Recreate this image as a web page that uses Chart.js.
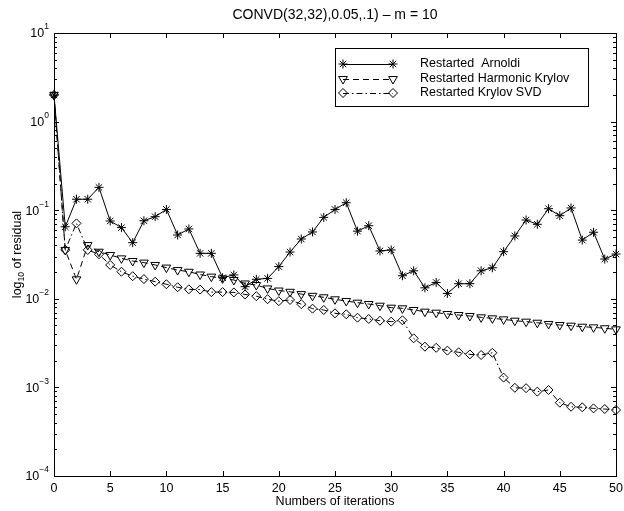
<!DOCTYPE html>
<html>
<head>
<meta charset="utf-8">
<script src="https://cdn.jsdelivr.net/npm/chart.js@4"></script>
<style>
  body { margin: 0; background: #fff; }
  #wrap { width: 624px; height: 511px; }
</style>
</head>
<body>
<div id="wrap"><canvas id="myChart" width="624" height="511"></canvas></div>
<script>
const iterations = [0,1,2,3,4,5,6,7,8,9,10,11,12,13,14,15,16,17,18,19,20,21,22,23,24,25,
  26,27,28,29,30,31,32,33,34,35,36,37,38,39,40,41,42,43,44,45,46,47,48,49,50];

const arnoldi = [2.0, 0.065, 0.133, 0.133, 0.181, 0.0755, 0.0636, 0.043, 0.076, 0.0845,
  0.102, 0.0525, 0.0614, 0.0326, 0.0326, 0.0173, 0.0186, 0.0137, 0.0166, 0.017,
  0.0231, 0.0337, 0.0473, 0.0568, 0.083, 0.102, 0.1216, 0.058, 0.0668, 0.0347,
  0.0356, 0.0182, 0.0207, 0.0133, 0.0153, 0.0115, 0.0148, 0.0148, 0.0207, 0.0224,
  0.034, 0.0512, 0.0775, 0.0693, 0.104, 0.0867, 0.106, 0.046, 0.0564, 0.0281, 0.032];

const harmonic = [2.0, 0.0356, 0.0166, 0.0404, 0.034, 0.0312, 0.0286, 0.0267, 0.0256, 0.0241,
  0.0225, 0.0211, 0.0202, 0.0188, 0.0178, 0.017, 0.0163, 0.0149, 0.0143, 0.0131,
  0.0124, 0.012, 0.0113, 0.0108, 0.0104, 0.00987, 0.00944, 0.00904, 0.00873, 0.00836,
  0.00794, 0.00781, 0.00748, 0.00716, 0.00697, 0.00674, 0.00656, 0.0064, 0.00618, 0.00602,
  0.00586, 0.00566, 0.00552, 0.00537, 0.0052, 0.00506, 0.00497, 0.00484, 0.00476, 0.00465, 0.00452];

const krylovSvd = [2.0, 0.0356, 0.071, 0.0356, 0.0318, 0.0241, 0.0202, 0.018, 0.0167, 0.0156,
  0.0146, 0.0135, 0.0128, 0.0127, 0.0119, 0.0119, 0.0118, 0.0112, 0.0107, 0.0099,
  0.0094, 0.0097, 0.0087, 0.00774, 0.00748, 0.00686, 0.00668, 0.00612, 0.00592, 0.00566,
  0.00552, 0.00572, 0.00358, 0.00288, 0.0028, 0.0026, 0.00249, 0.00236, 0.00232, 0.00246,
  0.00129, 0.00099, 0.00098, 0.000896, 0.000935, 0.000672, 0.000605, 0.000596, 0.00058, 0.00057, 0.000556];

const seriesNames = ['Restarted  Arnoldi', 'Restarted Harmonic Krylov', 'Restarted Krylov SVD'];
const xTicks = [0,5,10,15,20,25,30,35,40,45,50];
const yDecades = [-4,-3,-2,-1,0,1];

const titleText = 'CONVD(32,32),0.05,.1) \u2013 m = 10';
const xLabel = 'Numbers of iterations';

const FONT = '"Liberation Sans", Arial, Helvetica, sans-serif';

function pts(vals) {
  return iterations.map((x, i) => ({x: x, y: vals[i]}));
}

// axes, ticks, labels, legend drawn like matlab
const matlabAxes = {
  id: 'matlabAxes',
  afterDraw(chart) {
    const ctx = chart.ctx;
    const a = chart.chartArea;
    const xs = chart.scales.x, ys = chart.scales.y;
    ctx.save();
    ctx.strokeStyle = '#000';
    ctx.fillStyle = '#000';
    ctx.lineWidth = 1;

    // box
    ctx.strokeRect(Math.round(a.left) + 0.5, Math.round(a.top) + 0.5,
      Math.round(a.right - a.left), Math.round(a.bottom - a.top));

    // x ticks
    ctx.beginPath();
    for (const t of xTicks) {
      const px = Math.round(xs.getPixelForValue(t)) + 0.5;
      ctx.moveTo(px, a.bottom); ctx.lineTo(px, a.bottom - 5);
      ctx.moveTo(px, a.top); ctx.lineTo(px, a.top + 5);
    }
    // y ticks, major + minor
    for (const d of yDecades) {
      const py = Math.round(ys.getPixelForValue(Math.pow(10, d))) + 0.5;
      ctx.moveTo(a.left, py); ctx.lineTo(a.left + 5, py);
      ctx.moveTo(a.right, py); ctx.lineTo(a.right - 5, py);
      if (d < 1) {
        for (let m = 2; m <= 9; m++) {
          const pm = Math.round(ys.getPixelForValue(m * Math.pow(10, d))) + 0.5;
          ctx.moveTo(a.left, pm); ctx.lineTo(a.left + 3, pm);
          ctx.moveTo(a.right, pm); ctx.lineTo(a.right - 3, pm);
        }
      }
    }
    ctx.stroke();

    // x tick labels
    ctx.font = '12.5px ' + FONT;
    ctx.textAlign = 'center';
    ctx.textBaseline = 'top';
    for (const t of xTicks) {
      ctx.fillText(String(t), xs.getPixelForValue(t), a.bottom + 6);
    }
    ctx.fillText(xLabel, (a.left + a.right) / 2, a.bottom + 19);

    // y tick labels 10^k
    ctx.textBaseline = 'middle';
    for (const d of yDecades) {
      const py = ys.getPixelForValue(Math.pow(10, d));
      const exp = d < 0 ? '\u2212' + Math.abs(d) : String(d);
      ctx.font = '8.5px ' + FONT;
      const ew = ctx.measureText(exp).width;
      const ex = a.left - 5 - ew;
      ctx.textAlign = 'left';
      ctx.fillText(exp, ex, py - 6);
      ctx.font = '12.5px ' + FONT;
      ctx.textAlign = 'right';
      ctx.fillText('10', ex, py + 1);
    }

    // y label with subscript
    ctx.save();
    ctx.translate(18, (a.top + a.bottom) / 2);
    ctx.rotate(-Math.PI / 2);
    const p1 = 'log', p2 = '10', p3 = ' of residual';
    ctx.font = '12.5px ' + FONT; const w1 = ctx.measureText(p1).width;
    ctx.font = '8.5px ' + FONT; const w2 = ctx.measureText(p2).width;
    ctx.font = '12.5px ' + FONT; const w3 = ctx.measureText(p3).width;
    let sx = -(w1 + w2 + w3) / 2;
    ctx.textAlign = 'left';
    ctx.textBaseline = 'middle';
    ctx.fillText(p1, sx, 0);
    ctx.font = '8.5px ' + FONT;
    ctx.fillText(p2, sx + w1, 4);
    ctx.font = '12.5px ' + FONT;
    ctx.fillText(p3, sx + w1 + w2, 0);
    ctx.restore();

    // title
    ctx.font = '14px ' + FONT;
    ctx.textAlign = 'center';
    ctx.textBaseline = 'middle';
    ctx.fillText(titleText, (a.left + a.right) / 2, 15);

    // legend
    const lx = 335, ly = 48, lw = 253, lh = 58;
    ctx.fillStyle = '#fff';
    ctx.fillRect(lx, ly, lw, lh);
    ctx.strokeStyle = '#000';
    ctx.strokeRect(lx + 0.5, ly + 0.5, lw, lh);
    const rowsY = [64, 79, 93];
    chart.data.datasets.forEach((ds, i) => {
      const y = rowsY[i];
      ctx.save();
      ctx.strokeStyle = '#000';
      ctx.lineWidth = 1;
      ctx.setLineDash(ds.borderDash || []);
      ctx.beginPath();
      ctx.moveTo(343, y + 0.5); ctx.lineTo(393, y + 0.5);
      ctx.stroke();
      ctx.setLineDash([]);
      const opt = {pointStyle: ds.pointStyle, rotation: ds.pointRotation || 0,
        radius: ds.pointRadius, borderWidth: 1};
      ctx.fillStyle = 'rgba(0,0,0,0)';
      Chart.helpers.drawPoint(ctx, opt, 343, y);
      Chart.helpers.drawPoint(ctx, opt, 393, y);
      ctx.restore();
      ctx.fillStyle = '#000';
      ctx.font = '12.5px ' + FONT;
      ctx.textAlign = 'left';
      ctx.textBaseline = 'middle';
      ctx.fillText(ds.label, 420, y);
    });
    ctx.restore();
  }
};

const data = {
  datasets: [
    {
      label: seriesNames[0],
      data: pts(arnoldi),
      borderColor: '#000',
      borderWidth: 1,
      pointStyle: 'star',
      pointRadius: 4.5,
      pointBorderColor: '#000',
      pointBorderWidth: 1,
      pointBackgroundColor: 'rgba(0,0,0,0)',
      clip: false
    },
    {
      label: seriesNames[1],
      data: pts(harmonic),
      borderColor: '#000',
      borderWidth: 1,
      borderDash: [6, 4],
      pointStyle: 'triangle',
      pointRotation: 180,
      pointRadius: 5,
      pointBorderColor: '#000',
      pointBorderWidth: 1,
      pointBackgroundColor: 'rgba(0,0,0,0)',
      clip: false
    },
    {
      label: seriesNames[2],
      data: pts(krylovSvd),
      borderColor: '#000',
      borderWidth: 1,
      borderDash: [6, 3, 1.5, 3],
      pointStyle: 'rectRot',
      pointRadius: 4.5,
      pointBorderColor: '#000',
      pointBorderWidth: 1,
      pointBackgroundColor: 'rgba(0,0,0,0)',
      clip: false
    }
  ]
};

const config = {
  type: 'line',
  data,
  options: {
    responsive: false,
    animation: false,
    devicePixelRatio: 1,
    layout: { padding: { left: 54, right: 8, top: 33, bottom: 35 } },
    plugins: { legend: { display: false }, tooltip: { enabled: false }, title: { display: false } },
    elements: { line: { tension: 0 } },
    scales: {
      x: { type: 'linear', min: 0, max: 50, display: false },
      y: { type: 'logarithmic', min: 1e-4, max: 10, display: false }
    }
  },
  plugins: [matlabAxes]
};

var myChart = new Chart(document.getElementById('myChart'), config);
</script>
</body>
</html>
